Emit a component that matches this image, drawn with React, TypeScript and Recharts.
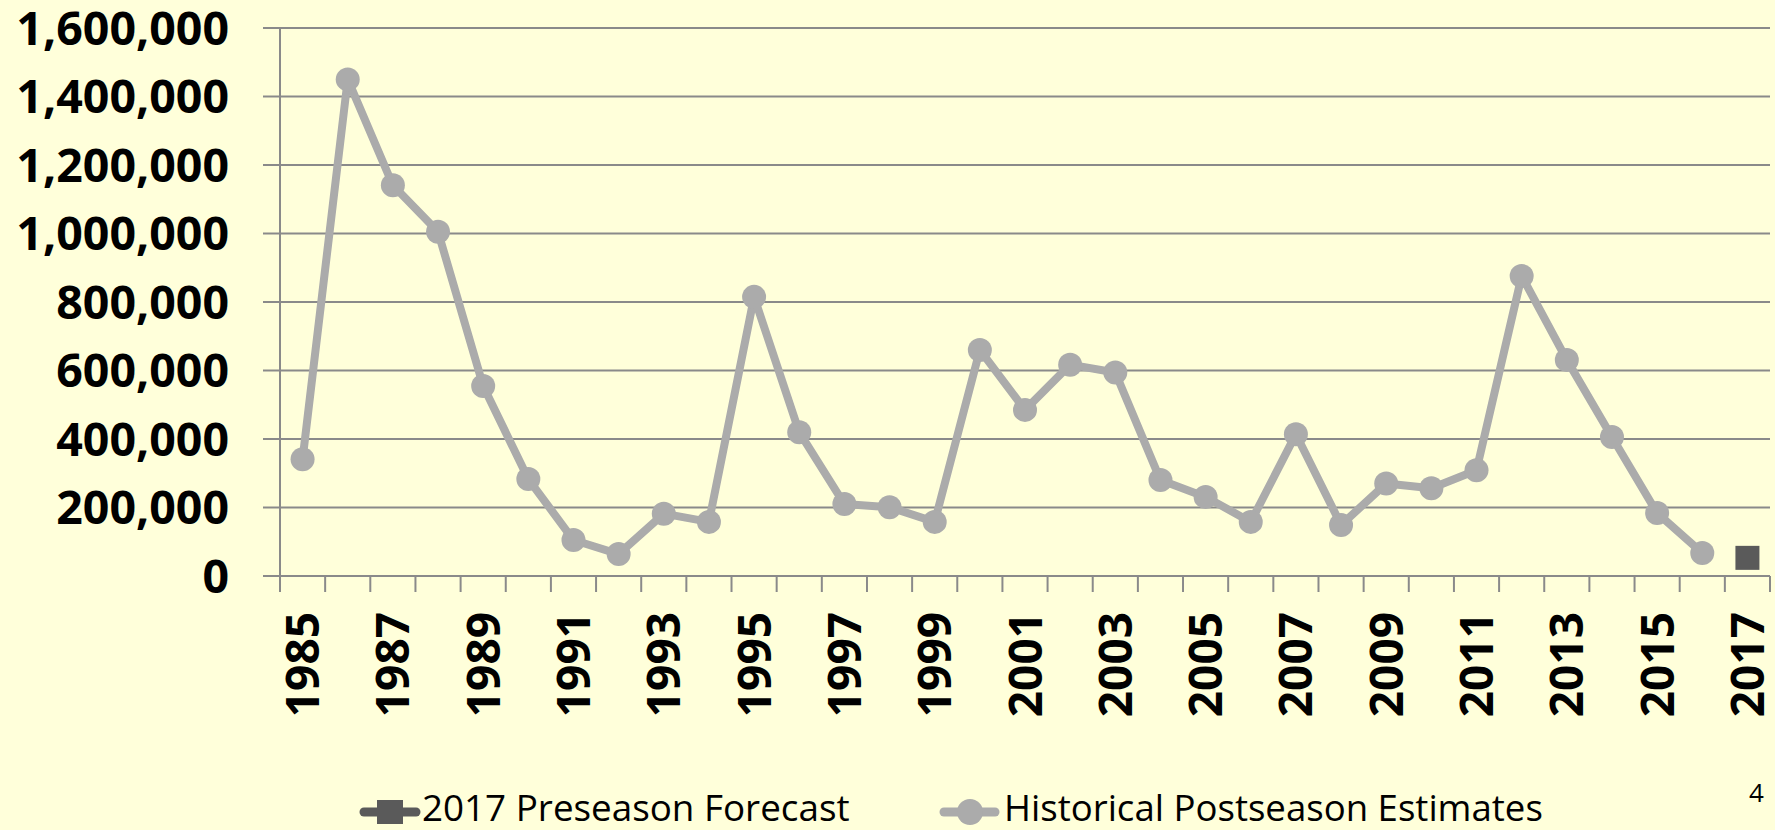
import { ComposedChart, Line, XAxis, YAxis, CartesianGrid } from "recharts";

const years = [
    "1985", "1986", "1987", "1988", "1989", "1990", "1991", "1992", "1993", "1994", "1995",
    "1996", "1997", "1998", "1999", "2000", "2001", "2002", "2003", "2004", "2005", "2006",
    "2007", "2008", "2009", "2010", "2011", "2012", "2013", "2014", "2015", "2016", "2017",
];

// historical postseason estimates, 1985-2016 (no estimate yet for 2017)
const postseason = [
    341000, 1450000, 1141000, 1005000, 555000, 283000, 105000, 64000, 182000, 158000, 815000,
    420000, 210000, 201000, 158000, 660000, 485000, 617000, 594000, 280000, 231000, 158000,
    414000, 149000, 270000, 256000, 309000, 876000, 631000, 406000, 184000, 67000,
];

const forecastYear = "2017";
const forecast = 53000;

const yTicks = [0, 200000, 400000, 600000, 800000, 1000000, 1200000, 1400000, 1600000];

const data = years.map((year, i) => ({
    year,
    postseason: i < postseason.length ? postseason[i] : null,
    forecast: year === forecastYear ? forecast : null,
}));

const BG = "#FFFFDA";
const GRID = "#8A8A8A";
const LIGHT = "#ABABAB";
const DARK = "#5A5A5A";
const FONT = "'Open Sans', 'Noto Sans', sans-serif";

function YearTick(props: any) {
    const { x, y, payload, index, visibleTicksCount } = props;
    const half = payload.offset || 22.6;
    const last = index === visibleTicksCount - 1;
    return (
        <g>
            <line x1={x - half} y1={y} x2={x - half} y2={y + 16} stroke={GRID} strokeWidth={2} />
            {last && <line x1={x + half} y1={y} x2={x + half} y2={y + 16} stroke={GRID} strokeWidth={2} />}
            {index % 2 === 0 && (
                <text
                    transform={`translate(${x},${y + 36}) rotate(-90)`}
                    textAnchor="end"
                    dy="0.36em"
                    fontFamily={FONT}
                    fontWeight={700}
                    fontSize={46}
                    fill="#000"
                >
                    {payload.value}
                </text>
            )}
        </g>
    );
}

function SquareDot(props: any) {
    const { cx, cy, value } = props;
    if (value == null || cy == null) return <g key={props.key} />;
    return <rect key={props.key} x={cx - 12} y={cy - 12} width={24} height={24} fill={DARK} />;
}

export default function App() {
    return (
        <div style={{ position: "absolute", left: 0, top: 0, width: 1775, height: 830, background: BG, overflow: "hidden" }}>
            <ComposedChart width={1775} height={830} data={data} margin={{ top: 28, right: 5, left: 0, bottom: 0 }}>
                <CartesianGrid vertical={false} stroke={GRID} strokeWidth={2} />
                <XAxis
                    dataKey="year"
                    scale="band"
                    interval={0}
                    height={254}
                    tickSize={0}
                    tickMargin={0}
                    tickLine={false}
                    axisLine={{ stroke: GRID, strokeWidth: 2 }}
                    tick={<YearTick />}
                />
                <YAxis
                    width={280}
                    domain={[0, 1600000]}
                    ticks={yTicks}
                    interval={0}
                    tickSize={17}
                    tickMargin={34}
                    tickLine={{ stroke: GRID, strokeWidth: 2 }}
                    axisLine={{ stroke: GRID, strokeWidth: 2 }}
                    tickFormatter={(v: number) => v.toLocaleString("en-US")}
                    tick={{ fontFamily: FONT, fontWeight: 700, fontSize: 46.5, fill: "#000" }}
                />
                <Line
                    dataKey="postseason"
                    name="Historical Postseason Estimates"
                    stroke={LIGHT}
                    strokeWidth={8}
                    strokeLinejoin="round"
                    dot={{ r: 12, fill: LIGHT, stroke: "none" }}
                    activeDot={false}
                    isAnimationActive={false}
                />
                <Line
                    dataKey="forecast"
                    name="2017 Preseason Forecast"
                    stroke="none"
                    dot={<SquareDot />}
                    activeDot={false}
                    isAnimationActive={false}
                />
            </ComposedChart>

            <svg width={1775} height={830} style={{ position: "absolute", left: 0, top: 0, pointerEvents: "none" }}>
                <line x1={364} y1={812} x2={416} y2={812} stroke={DARK} strokeWidth={9} strokeLinecap="round" />
                <rect x={377} y={800} width={26} height={24} fill={DARK} />
                <line x1={944} y1={812} x2={995} y2={812} stroke={LIGHT} strokeWidth={9} strokeLinecap="round" />
                <circle cx={970} cy={812} r={13} fill={LIGHT} />
                <text x={422} y={821} fontFamily={FONT} fontSize={36.8} fill="#000">2017 Preseason Forecast</text>
                <text x={1004} y={821} fontFamily={FONT} fontSize={36.6} fill="#000">Historical Postseason Estimates</text>
                <text x={1749} y={802} fontFamily={FONT} fontSize={26} fill="#000">4</text>
            </svg>
        </div>
    );
}
